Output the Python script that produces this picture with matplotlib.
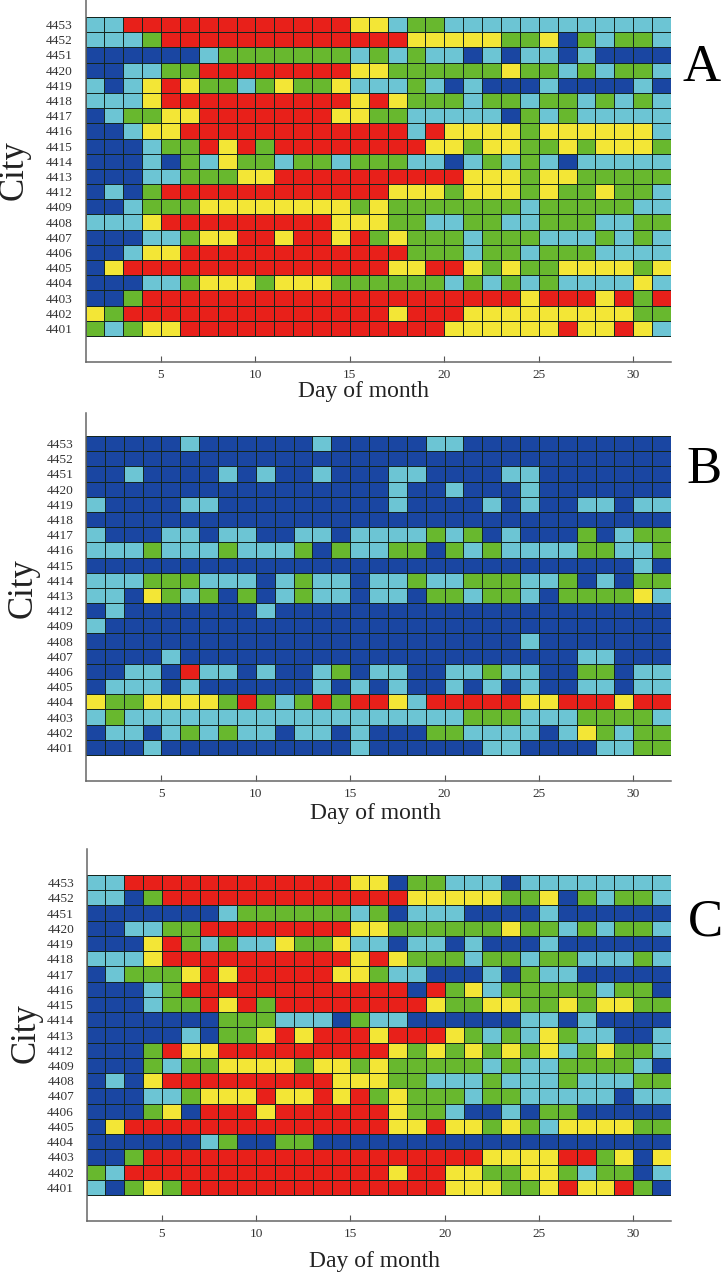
import numpy as np
import matplotlib
matplotlib.use('Agg')
import matplotlib.pyplot as plt
from matplotlib.colors import ListedColormap

cities = ['4453', '4452', '4451', '4420', '4419', '4418', '4417', '4416', '4415', '4414', '4413',
          '4412', '4409', '4408', '4407', '4406', '4405', '4404', '4403', '4402', '4401']
xticks = [5, 10, 15, 20, 25, 30]

# one letter per day, b=dark blue c=light blue g=green y=yellow r=red
panel_a = [
    'ccrrrrrrrrrrrryycggcccccccccccc',
    'cccgrrrrrrrrrrrrryyyyyggybgcggc',
    'bbbbbbcgggggggcgcgccbcbccbcbbbb',
    'bbccggrrrrrrrryyggggggyggcgcggc',
    'cbcyryggcgyggycccgcbcbbbcbbbbcb',
    'cccyrrrrrrrrrryrygggcggcggcgcgc',
    'bcggyyrrrrrrryyggcccccbgcgccccc',
    'bbcyyrrrrrrrrrrrrcryyyygyyyyyyc',
    'bbbcggryrgrrrrrrrryygyyggygyyyg',
    'bbbcbgcyggcggcgggccbcgcgcbccccc',
    'bbbccgggyyrrrrrrrrrryyygyyggggg',
    'bcbgrrrrrrrrrrrryyygyyygyggyggc',
    'bbcgggyyyyyyyygygggggggcgggggcc',
    'cccyrrrrrrrrryyyggccggccgggccgg',
    'bbbccgyyrryrryrgygggcgggcccgcgc',
    'bbcyyrrrrrrrrrrrrgggcggcgggcccc',
    'byrrrrrrrrrrrrrryyrrygyggyyyygy',
    'bbbccgyyygyyyggggggcgcgcgccccyc',
    'bbgrrrrrrrrrrrrrrrrrrrryrrryrgr',
    'ygrrrrrrrrrrrrrryrrryyyyyyyyygg',
    'gcgyyrrrrrrrrrrrrrryyyyyyryyryc',
]
panel_b = [
    'bbbbbcbbbbbbcbbbbbccbbbbbbbbbbb',
    'bbbbbbbbbbbbbbbbbbbbbbbbbbbbbbb',
    'bbcbbbbcbcbbcbbbccbbbbccbbbbbbb',
    'bbbbbbbbbbbbbbbbcbbcbbbcbbbbbbb',
    'cbbbbccbbbbbbbbbcbbbbcbcbbccbcc',
    'bbbbbbbbbbbbbbbbbbbbbbbbbbbbbbb',
    'cbbbccbccbbccbccccgcgbcbbbgbcgg',
    'cccgcccgcccgbgccggbgcgccccggccg',
    'bbbbbbbbbbbbbbbbbbbbbbbbbbbbbcb',
    'cccgggcccbcgccbccgccgggccgbcbgg',
    'ccbygcgbgbcgccbccbggcggcbggggyc',
    'bcbbbbbbbcbbbbbbbbbbbbbbbbbbbbb',
    'cbbbbbbbbbbbbbbbbbbbbbbbbbbbbbb',
    'bbbbbbbbbbbbbbbbbbbbbbbcbbbbbbb',
    'bbbbcbbbbbbbbbbbbbbbbbbbbbccbbb',
    'bbccbrccbcbbcgbccbbccgccbbggbcc',
    'bcccbcbbbbbbcbcbcbbcbcbcbbccbcc',
    'yggyyyygrgcgrgrrycrrrrryyrrryrr',
    'cgccccccccccccccccccgggcccggggc',
    'bccbcgcgccbccbcbbbggccccbcygcgg',
    'bbbcbbbbbbbbbbcbbbbbbccbbbbccgg',
]
panel_c = [
    'ccrrrrrrrrrrrryybggcccbcccccccc',
    'ccbgrrrrrrrrrrrrryyyyyggybgcggc',
    'bbbbbbbcggggggcgbcccbbbbcbbbbbb',
    'bbccggrrrrrrrryyggggggyggcgcggc',
    'bbbyrgcgccyggyccbccbcbbbcbbbbbb',
    'cccyrrrrrrrrrryrygggcggcggcccgc',
    'bcgggyryrrrrryygccbbbcbgccbbbbb',
    'bbbcgrrrrrrrrrrrrbrgycgggggcggb',
    'bbbcggryrgrrrrrrrryggyyggygyygg',
    'bbbbbbbgggcccbgccbbbbbbccbcbbbb',
    'bbbbbcbggyryrrryrrrygcgcygccbbc',
    'bbbgryyrrrrrrrrrygygygygycgyggc',
    'bbbgcggyyyygyygygggggcgccggggcb',
    'bcbyrrrrrrrrryyyggcccgcccgcccgg',
    'bbbccgyyyryyryrgygggcggcccccbcc',
    'bbbgybrrryrrrrrryggcbbcbggbbbbb',
    'byrrrrrrrrrrrrrryyryygygcyyyygg',
    'bbbbbbcgbbggbbbbbbbbbbbbbbbbbbb',
    'bbgrrrrrrrrrrrrrrrrrryyyyrrgyby',
    'gcrrrrrrrrrrrrrryrryyggyygcggbc',
    'cbgygrrrrrrrrrrrrrryyyggyryyrgb',
]
panel_names = ['A', 'B', 'C']

codes = 'bcgyr'
cmap = ListedColormap(['#1a46a2', '#6cc5d4', '#68b82e', '#f3e636', '#e8201a'])
W, H = 723, 1274
px = 1 / 100

# pixel layout per panel
spine_top = [0, 413, 849]
heat_top = [17, 436, 875]
heat_bot = [336, 755, 1195]
axis_bot = [362, 781, 1221]
left = [85.5, 86, 86.5]
right = 671
xlabel_pos = [(364, 392), (375, 814), (374, 1261)]
city_pos = [(14, 170), (23, 588), (26, 1033)]
name_pos = [(702, 68), (704, 470), (705, 922)]

fig = plt.figure(figsize=(W * px, H * px), dpi=100, facecolor='white')
serif = 'Liberation Serif'

for i, rows in enumerate([panel_a, panel_b, panel_c]):
    vals = np.array([[codes.index(ch) for ch in r] for r in rows])
    ax = fig.add_axes([left[i] / W, 1 - axis_bot[i] / H, (right - left[i]) / W, (axis_bot[i] - spine_top[i]) / H])
    row_h = (heat_bot[i] - heat_top[i]) / len(cities)
    ax.set_xlim(1, 32)
    ax.set_ylim(len(cities) + (axis_bot[i] - heat_bot[i]) / row_h, -(heat_top[i] - spine_top[i]) / row_h)
    ax.pcolormesh(np.arange(1, 33), np.arange(len(cities) + 1), vals, cmap=cmap, vmin=-0.5, vmax=4.5,
                  edgecolors='#14261f', linewidth=0.55)
    ax.set_xticks(xticks)
    ax.set_xticklabels(xticks, family=serif, fontsize=9.6, color='#333333')
    ax.set_yticks(np.arange(len(cities)) + 0.5)
    ax.set_yticklabels(cities, family=serif, fontsize=9.6, color='#333333')
    ax.tick_params(axis='x', direction='in', length=4, width=0.8, color='#555555', pad=5)
    ax.tick_params(axis='y', length=0, pad=9)
    for s in ['top', 'right']:
        ax.spines[s].set_visible(False)
    for s in ['left', 'bottom']:
        ax.spines[s].set_color('#666666')
        ax.spines[s].set_linewidth(1.1)

    fig.text(xlabel_pos[i][0] / W, 1 - xlabel_pos[i][1] / H, 'Day of month', family=serif, fontsize=17,
             ha='center', va='center', color='#222222')
    fig.text(city_pos[i][0] / W, 1 - city_pos[i][1] / H, 'City', family=serif, fontsize=25, rotation=90,
             ha='center', va='center', color='#222222')
    fig.text(name_pos[i][0] / W, 1 - name_pos[i][1] / H, panel_names[i], family=serif, fontsize=38,
             ha='center', va='center', color='black')

fig.savefig('out.png', dpi=100)
